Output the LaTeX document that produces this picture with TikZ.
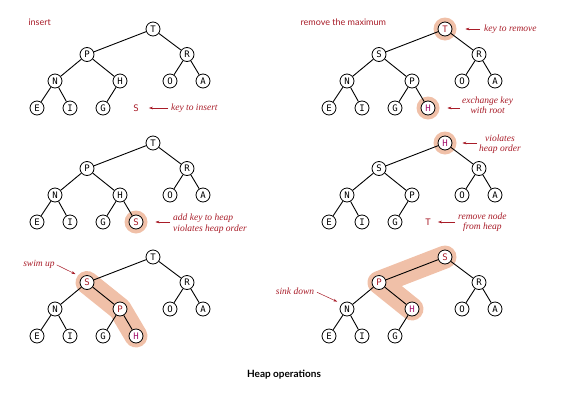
\documentclass[tikz,border=0pt]{standalone}
\usepackage{fontspec}
\setmainfont{Liberation Serif}
\setsansfont{Lato}
\setmonofont{DejaVu Sans Mono}
\usetikzlibrary{positioning}
\usetikzlibrary{arrows.meta}
\definecolor{heapred}{RGB}{168,28,40}
\definecolor{heapmag}{RGB}{165,20,110}
\definecolor{halo}{RGB}{240,192,168}
\newcommand{\redkey}[1]{\textcolor{heapred}{#1}}
\newcommand{\magkey}[1]{\textcolor{heapmag}{#1}}
\newcommand{\slots}{1/0/0, 2/-66/25.5, 3/34/25.5, 4/-98/52, 5/-33/52, 6/17/52, 7/50/52, 8/-116/79, 9/-83/79, 10/-50/79, 11/-17/79}
\newcommand{\links}{1/2, 1/3, 2/4, 2/5, 3/6, 3/7, 4/8, 4/9, 5/10}

\begin{document}
\begin{tikzpicture}[x=1pt,y=-1pt,
    key/.style={shape=circle,draw=black,fill=white,line width=0.8pt,minimum size=14pt,inner sep=0pt,font=\ttfamily\fontsize{9}{9}\selectfont},
    loose/.style={inner sep=0pt,text=heapred,font=\ttfamily\fontsize{9}{9}\selectfont},
    link/.style={line width=0.9pt},
    glow/.style={draw=halo,line width=23pt,line cap=round,line join=round},
    title/.style={anchor=west,text=heapred,font=\sffamily\fontsize{9}{9}\selectfont},
    note/.style={text=heapred,inner sep=0pt,font=\itshape\fontsize{9.5}{10.5}\selectfont},
    pointer/.style={draw=heapred,line width=0.5pt,-{Stealth[length=4pt,width=2.6pt]}}]

    \useasboundingbox (0,0) rectangle (562,402);

    % insert
    \begin{scope}[shift={(153,29)}]
        \foreach \i/\x/\y in \slots \coordinate (p\i) at (\x,\y);
        \foreach \i/\k in {1/T,2/P,3/R,4/N,5/H,6/O,7/A,8/E,9/I,10/G}
            \node[key] (ins\i) at (p\i) {\k};
        \foreach \a/\b in \links \draw[link] (ins\a) -- (ins\b);
        \node[loose] (ins11) at (p11) {S};
    \end{scope}
    \node[title] (insTitle) at (25,22) {insert};
    \node[note,anchor=west] (insNote) at (171,108) {key to insert};
    \draw[pointer] ([xshift=-3pt]insNote.west) -- ([xshift=10pt]ins11.east);

    % remove the maximum
    \begin{scope}[shift={(445,29)}]
        \foreach \i/\x/\y in \slots \coordinate (p\i) at (\x,\y);
        \fill[halo] (p1) circle (11.5);
        \fill[halo] (p11) circle (11.5);
        \foreach \i/\k in {1/\redkey{T},2/S,3/R,4/N,5/P,6/O,7/A,8/E,9/I,10/G,11/\magkey{H}}
            \node[key] (rem\i) at (p\i) {\k};
        \foreach \a/\b in \links \draw[link] (rem\a) -- (rem\b);
        \draw[link] (rem5) -- (rem11);
    \end{scope}
    \node[title] (remTitle) at (297,22) {remove the maximum};
    \node[note,anchor=west] (remNote) at (484,29) {key to remove};
    \draw[pointer] ([xshift=-4pt]remNote.west) -- ([xshift=13pt]rem1.east);
    \node[note,align=center,anchor=west] (xchgNote) at (462,105) {exchange key\\with root};
    \draw[pointer] ([xshift=-2pt]xchgNote.west |- rem11) -- ([xshift=12pt]rem11.east);

    % insert: new key at the bottom
    \begin{scope}[shift={(153,143)}]
        \foreach \i/\x/\y in \slots \coordinate (p\i) at (\x,\y);
        \fill[halo] (p11) circle (11.5);
        \foreach \i/\k in {1/T,2/P,3/R,4/N,5/H,6/O,7/A,8/E,9/I,10/G,11/\redkey{S}}
            \node[key] (add\i) at (p\i) {\k};
        \foreach \a/\b in \links \draw[link] (add\a) -- (add\b);
        \draw[link] (add5) -- (add11);
    \end{scope}
    \node[note,align=left,anchor=west] (addNote) at (173,223.5) {add key to heap\\violates heap order};
    \draw[pointer] ([xshift=-3pt]addNote.west |- add11) -- ([xshift=12pt]add11.east);

    % remove: last key at the root
    \begin{scope}[shift={(445,143)}]
        \foreach \i/\x/\y in \slots \coordinate (p\i) at (\x,\y);
        \fill[halo] (p1) circle (11.5);
        \foreach \i/\k in {1/\magkey{H},2/S,3/R,4/N,5/P,6/O,7/A,8/E,9/I,10/G}
            \node[key] (cut\i) at (p\i) {\k};
        \foreach \a/\b in \links \draw[link] (cut\a) -- (cut\b);
        \node[loose] (cut11) at (p11) {T};
    \end{scope}
    \node[note,align=center,anchor=west] (violNote) at (479,144) {violates\\heap order};
    \draw[pointer] ([xshift=-2pt]violNote.west |- cut1) -- ([xshift=10pt]cut1.east);
    \node[note,align=center,anchor=west] (dropNote) at (458,222) {remove node\\from heap};
    \draw[pointer] ([xshift=-3pt]dropNote.west |- cut11) -- ([xshift=7pt]cut11.east);

    % swim up
    \begin{scope}[shift={(153,257)}]
        \foreach \i/\x/\y in \slots \coordinate (p\i) at (\x,\y);
        \draw[glow] (p2) -- (p5) -- (p11);
        \foreach \i/\k in {1/T,2/\redkey{S},3/R,4/N,5/\redkey{P},6/O,7/A,8/E,9/I,10/G,11/\magkey{H}}
            \node[key] (swim\i) at (p\i) {\k};
        \foreach \a/\b in \links \draw[link] (swim\a) -- (swim\b);
        \draw[link] (swim5) -- (swim11);
    \end{scope}
    \node[note] (swimNote) at (39,264) {swim up};
    \draw[pointer,shorten <=2pt,shorten >=7pt] (swimNote.east) -- (swim2.north west);

    % sink down
    \begin{scope}[shift={(445,257)}]
        \foreach \i/\x/\y in \slots \coordinate (p\i) at (\x,\y);
        \draw[glow] (p1) -- (p2) -- (p5);
        \foreach \i/\k in {1/\redkey{S},2/\redkey{P},3/R,4/N,5/\magkey{H},6/O,7/A,8/E,9/I,10/G}
            \node[key] (sink\i) at (p\i) {\k};
        \foreach \a/\b in \links \draw[link] (sink\a) -- (sink\b);
    \end{scope}
    \node[note] (sinkNote) at (295,291) {sink down};
    \draw[pointer,shorten <=3pt,shorten >=5pt] (sinkNote.east) -- (sink4.north west);

    \node[font=\sffamily\bfseries\fontsize{10}{11}\selectfont] (caption) at (284,375) {Heap operations};
\end{tikzpicture}
\end{document}
